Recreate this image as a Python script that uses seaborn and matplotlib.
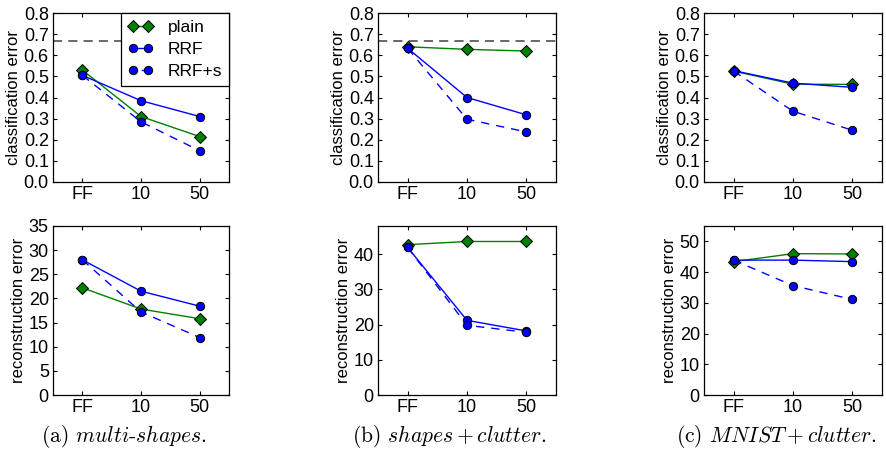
import matplotlib
matplotlib.use("Agg")
import matplotlib.pyplot as plt
import seaborn as sns
import pandas as pd

# ---- data -------------------------------------------------------------
categories = ["FF", "10", "50"]
series_names = ["plain", "RRF", "RRF+s"]

# classification error
cls_a_plain = [0.530, 0.310, 0.215]
cls_a_rrf = [0.505, 0.385, 0.310]
cls_a_rrfs = [0.505, 0.285, 0.148]

cls_b_plain = [0.640, 0.628, 0.620]
cls_b_rrf = [0.633, 0.400, 0.318]
cls_b_rrfs = [0.633, 0.297, 0.237]

cls_c_plain = [0.525, 0.463, 0.462]
cls_c_rrf = [0.527, 0.468, 0.448]
cls_c_rrfs = [0.525, 0.335, 0.245]

# reconstruction error
rec_a_plain = [22.2, 17.8, 15.8]
rec_a_rrf = [28.0, 21.5, 18.4]
rec_a_rrfs = [28.0, 17.2, 11.9]

rec_b_plain = [42.7, 43.6, 43.6]
rec_b_rrf = [41.9, 21.2, 18.2]
rec_b_rrfs = [41.9, 19.8, 17.8]

rec_c_plain = [43.4, 46.0, 45.9]
rec_c_rrf = [43.9, 43.9, 43.4]
rec_c_rrfs = [43.9, 35.6, 31.1]

chance_level = 2.0 / 3.0

cls_ylim = (0.0, 0.8)
cls_yticks = [0.0, 0.1, 0.2, 0.3, 0.4, 0.5, 0.6, 0.7, 0.8]
rec_a_ylim, rec_a_yticks = (0, 35), [0, 5, 10, 15, 20, 25, 30, 35]
rec_b_ylim, rec_b_yticks = (0, 48), [0, 10, 20, 30, 40]
rec_c_ylim, rec_c_yticks = (0, 55), [0, 10, 20, 30, 40, 50]

captions = [r"(a) $\mathit{multi}$-$\mathit{shapes.}$",
            r"(b) $\mathit{shapes}+\mathit{clutter.}$",
            r"(c) $\mathit{MNIST}+\mathit{clutter.}$"]

# ---- style ------------------------------------------------------------
sns.set_theme(style="ticks")
plt.rcParams.update({
    "font.family": ["Liberation Sans", "DejaVu Sans"],
    "font.size": 12,
    "axes.edgecolor": "black",
    "axes.linewidth": 0.9,
    "xtick.direction": "in",
    "ytick.direction": "in",
    "xtick.top": True,
    "ytick.right": True,
    "xtick.major.size": 3.2,
    "ytick.major.size": 3.2,
    "xtick.major.width": 0.8,
    "ytick.major.width": 0.8,
    "xtick.major.pad": 3.0,
    "ytick.major.pad": 3.0,
    "xtick.color": "black",
    "ytick.color": "black",
    "xtick.labelsize": 13,
    "ytick.labelsize": 13,
    "axes.labelsize": 12,
    "axes.labelcolor": "black",
    "text.color": "black",
    "mathtext.fontset": "cm",
})

GREEN = (0.0, 0.5, 0.0)
BLUE = (0.0, 0.0, 1.0)

fig = plt.figure(figsize=(8.86, 4.54), dpi=100)

lefts = [53 / 886, 378 / 886, 704 / 886]
widths = [176 / 886, 178 / 886, 178 / 886]
top_bottom = 1 - 182 / 454
bot_bottom = 1 - 395 / 454
height = 169 / 454


def draw(ax, plain, rrf, rrfs):
    df = pd.DataFrame({"x": categories * 3,
                       "y": list(plain) + list(rrf) + list(rrfs),
                       "s": [series_names[0]] * 3 + [series_names[1]] * 3 + [series_names[2]] * 3})
    sub = df[df.s == "plain"]
    sns.lineplot(data=sub, x="x", y="y", ax=ax, sort=False, errorbar=None,
                 color=GREEN, lw=1.0, marker="D", markersize=6.5,
                 markerfacecolor=GREEN, markeredgecolor="black", markeredgewidth=0.7,
                 label="plain", zorder=3)
    sub = df[df.s == "RRF"]
    sns.lineplot(data=sub, x="x", y="y", ax=ax, sort=False, errorbar=None,
                 color=BLUE, lw=1.0, marker="o", markersize=6.0,
                 markerfacecolor=BLUE, markeredgecolor="black", markeredgewidth=0.7,
                 label="RRF", zorder=4)
    sub = df[df.s == "RRF+s"]
    sns.lineplot(data=sub, x="x", y="y", ax=ax, sort=False, errorbar=None,
                 color=BLUE, lw=1.0, marker="o", markersize=6.0, dashes=False,
                 markerfacecolor=BLUE, markeredgecolor="black", markeredgewidth=0.7,
                 label="RRF+s", zorder=4)
    ax.lines[-1].set_dashes((6, 5))
    ax.set_xlim(-0.5, 2.5)
    ax.set_xlabel("")
    for sp in ax.spines.values():
        sp.set_visible(True)
        sp.set_color("black")


cls_data = [(cls_a_plain, cls_a_rrf, cls_a_rrfs),
            (cls_b_plain, cls_b_rrf, cls_b_rrfs),
            (cls_c_plain, cls_c_rrf, cls_c_rrfs)]
rec_data = [(rec_a_plain, rec_a_rrf, rec_a_rrfs, rec_a_ylim, rec_a_yticks),
            (rec_b_plain, rec_b_rrf, rec_b_rrfs, rec_b_ylim, rec_b_yticks),
            (rec_c_plain, rec_c_rrf, rec_c_rrfs, rec_c_ylim, rec_c_yticks)]

for i in range(3):
    ax = fig.add_axes([lefts[i], top_bottom, widths[i], height])
    draw(ax, *cls_data[i])
    if i < 2:
        ax.axhline(chance_level, color="0.25", lw=1.1, dashes=(6, 4), zorder=1)
    ax.set_ylim(*cls_ylim)
    ax.set_yticks(cls_yticks)
    ax.set_yticklabels([f"{v:.1f}" for v in cls_yticks])
    ax.set_ylabel("classification error", labelpad=2)
    if i == 0:
        leg = ax.legend(loc="upper right", borderaxespad=0, numpoints=2,
                        handlelength=1.5, handletextpad=0.8, borderpad=0.4,
                        labelspacing=0.4, fancybox=False, framealpha=1,
                        fontsize=12.5)
        leg.get_frame().set_edgecolor("black")
        leg.get_frame().set_linewidth(0.9)
        leg.legend_handles[2].set_dashes((3, 3))
    else:
        l = ax.get_legend()
        if l is not None:
            l.remove()

    ax2 = fig.add_axes([lefts[i], bot_bottom, widths[i], height])
    p, r, s, yl, yt = rec_data[i]
    draw(ax2, p, r, s)
    ax2.set_ylim(*yl)
    ax2.set_yticks(yt)
    ax2.set_ylabel("reconstruction error", labelpad=2)
    l = ax2.get_legend()
    if l is not None:
        l.remove()

caption_x = [124 / 886, 449 / 886, 776 / 886]
for x, c in zip(caption_x, captions):
    fig.text(x, 1 - 437 / 454, c, ha="center", va="center",
             fontsize=15.5, family="cmr10")

fig.savefig("out.png", dpi=100)
